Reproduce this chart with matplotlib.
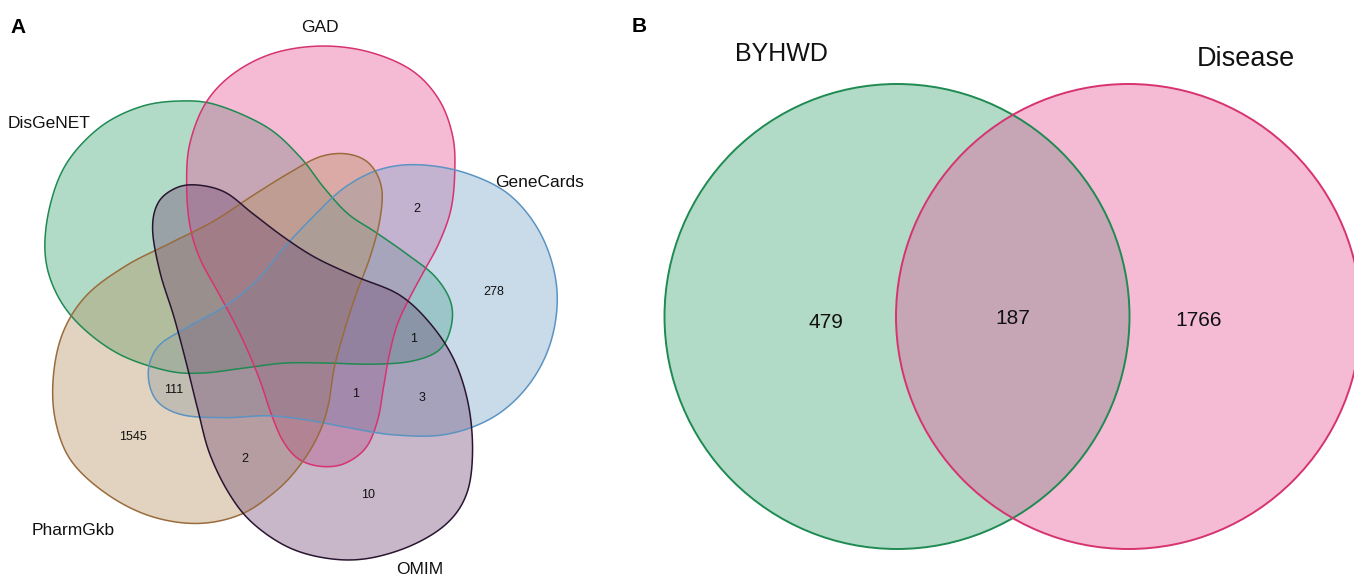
import numpy as np
import matplotlib
matplotlib.use("Agg")
import matplotlib.pyplot as plt
from matplotlib.patches import Polygon, Ellipse

plt.rcParams['font.family'] = ['Liberation Sans', 'DejaVu Sans']

# ---- panel A data: five databases ----
sets_a = ["DisGeNET", "GAD", "GeneCards", "OMIM", "PharmGkb"]
region_counts_a = [2, 278, 1, 1, 3, 111, 1545, 2, 10]

# ---- panel B data ----
sets_b = ["BYHWD", "Disease"]
region_counts_b = [479, 187, 1766]

# styles (fill base, edge)
fill_a = {"DisGeNET": "#3ca773", "GAD": "#e65798", "GeneCards": "#7aa5ca",
          "OMIM": "#754d78", "PharmGkb": "#b69161"}
edge_a = {"DisGeNET": "#1f8a52", "GAD": "#d6336f", "GeneCards": "#5b93c2",
          "OMIM": "#2a1530", "PharmGkb": "#9a6b3c"}

# outlines of the five blobs, in panel units (1568 x 1568 box)
outlines = {
    "DisGeNET": [(455, 274), (549, 285), (675, 345), (759, 426), (820, 510), (880, 580),
                 (950, 630), (1030, 690), (1100, 750), (1140, 820), (1140, 890), (1110, 950),
                 (1040, 980), (940, 988), (830, 985), (720, 985), (620, 998), (510, 1012),
                 (420, 1005), (300, 960), (200, 880), (140, 790), (114, 686), (126, 560),
                 (169, 442), (253, 345), (354, 290)],
    "GAD": [(810, 125), (930, 140), (1040, 190), (1110, 270), (1145, 370), (1150, 470),
            (1140, 570), (1110, 660), (1070, 740), (1035, 810), (1005, 880), (985, 960),
            (970, 1050), (955, 1140), (925, 1215), (870, 1258), (810, 1265), (755, 1245),
            (715, 1195), (685, 1120), (660, 1040), (630, 960), (595, 880), (550, 790),
            (505, 700), (480, 610), (472, 500), (480, 390), (520, 280), (590, 200), (690, 145)],
    "GeneCards": [(1060, 447), (1180, 470), (1290, 530), (1370, 640), (1408, 780),
                  (1395, 920), (1340, 1040), (1250, 1130), (1130, 1178), (1000, 1180),
                  (880, 1160), (780, 1140), (680, 1128), (570, 1133), (460, 1125),
                  (395, 1085), (375, 1010), (400, 940), (470, 890), (570, 830), (650, 760),
                  (720, 670), (790, 590), (870, 510), (960, 460)],
    "PharmGkb": [(880, 418), (935, 445), (965, 510), (960, 600), (935, 700), (900, 800),
                 (870, 900), (845, 1000), (830, 1100), (805, 1180), (760, 1260), (700, 1330),
                 (610, 1395), (500, 1420), (380, 1400), (270, 1340), (180, 1250), (140, 1140),
                 (135, 1020), (160, 900), (220, 800), (320, 720), (430, 660), (540, 600),
                 (640, 530), (730, 470), (810, 425)],
    "OMIM": [(500, 502), (570, 522), (640, 580), (720, 645), (800, 700), (900, 750),
             (1010, 800), (1090, 880), (1150, 980), (1185, 1100), (1195, 1230), (1180, 1340),
             (1130, 1420), (1040, 1480), (930, 1515), (830, 1515), (730, 1485), (640, 1420),
             (580, 1340), (530, 1230), (500, 1110), (470, 980), (440, 860), (405, 740),
             (386, 624), (400, 550), (445, 510)],
}
label_pos_a = {"GAD": (810, 75), "DisGeNET": (125, 335), "GeneCards": (1365, 495),
               "PharmGkb": (185, 1440), "OMIM": (1062, 1545)}
count_pos_a = [(1055, 568), (1248, 792), (1045, 920), (898, 1068), (1068, 1080),
               (440, 1057), (335, 1185), (620, 1245), (930, 1343)]


def smooth_closed(pts, n=30):
    # closed Catmull-Rom spline through the traced points
    p = np.asarray(pts, dtype=float)
    m = len(p)
    out = []
    for i in range(m):
        p0, p1, p2, p3 = p[i - 1], p[i], p[(i + 1) % m], p[(i + 2) % m]
        t = np.linspace(0, 1, n, endpoint=False)[:, None]
        seg = 0.5 * ((2 * p1) + (-p0 + p2) * t + (2 * p0 - 5 * p1 + 4 * p2 - p3) * t ** 2
                     + (-p0 + 3 * p1 - 3 * p2 + p3) * t ** 3)
        out.append(seg)
    return np.vstack(out)


fig = plt.figure(figsize=(13.54, 5.78), dpi=100)

# ---------------- panel A ----------------
ax_a = fig.add_axes([0, 0, 620 / 1354, 1])
ax_a.set_xlim(0, 1568)
ax_a.set_ylim(1568, 0)
ax_a.axis("off")

draw_order = ["DisGeNET", "GAD", "GeneCards", "PharmGkb", "OMIM"]
for name in draw_order:
    xy = smooth_closed(outlines[name])
    ax_a.add_patch(Polygon(xy, closed=True, facecolor=fill_a[name], alpha=0.4, edgecolor="none"))
for name in draw_order:
    xy = smooth_closed(outlines[name])
    ax_a.add_patch(Polygon(xy, closed=True, facecolor="none", edgecolor=edge_a[name], lw=1.1))

for name in sets_a:
    x, y = label_pos_a[name]
    ax_a.text(x, y, name, ha="center", va="center", fontsize=12.5, color="#111111")
for (x, y), c in zip(count_pos_a, region_counts_a):
    ax_a.text(x, y, str(c), ha="center", va="center", fontsize=9, color="#111111")
ax_a.text(45, 75, "A", ha="center", va="center", fontsize=15, fontweight="bold")

# ---------------- panel B ----------------
ax_b = fig.add_axes([620 / 1354, 0, 734 / 1354, 1])
ax_b.set_xlim(620, 1354)
ax_b.set_ylim(578, 0)
ax_b.axis("off")

circ_b = [(897, 316.5), (1128.5, 316.5)]
fill_b = ["#3ca773", "#e65798"]
edge_b = ["#1f8a52", "#d6336f"]
for (cx, cy), fc in zip(circ_b, fill_b):
    ax_b.add_patch(Ellipse((cx, cy), 465, 465, facecolor=fc, alpha=0.4, edgecolor="none"))
for (cx, cy), ec in zip(circ_b, edge_b):
    ax_b.add_patch(Ellipse((cx, cy), 465, 465, facecolor="none", edgecolor=ec, lw=1.4))

ax_b.text(781, 54, sets_b[0], ha="center", va="center", fontsize=18, color="#111111")
ax_b.text(1246, 59, sets_b[1], ha="center", va="center", fontsize=19.5, color="#111111")
for (x, y), c in zip([(826, 323), (1013, 318), (1199, 321)], region_counts_b):
    ax_b.text(x, y, str(c), ha="center", va="center", fontsize=15, color="#111111")
ax_b.text(639, 26, "B", ha="center", va="center", fontsize=15, fontweight="bold")

fig.savefig("out.png", dpi=100)
